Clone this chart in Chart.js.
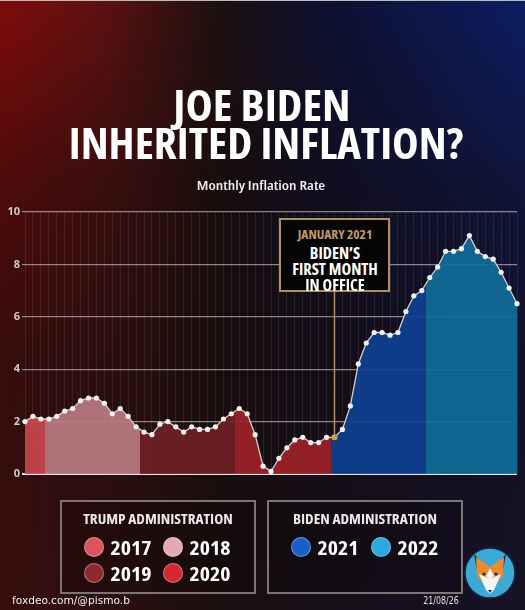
<!DOCTYPE html>
<html>
<head>
<meta charset="utf-8">
<script src="https://cdn.jsdelivr.net/npm/chart.js@4.4.1/dist/chart.umd.min.js"></script>
<style>
  html, body { margin: 0; padding: 0; }
  body {
    width: 525px; height: 610px; overflow: hidden; position: relative;
    background:
      linear-gradient(180deg, rgba(0,0,0,0) 0%, rgba(18,10,10,0.45) 30%, rgba(22,12,12,0.7) 60%, rgba(26,14,14,0.72) 100%),
      linear-gradient(90deg, #800b0b 0%, #5c1111 20%, #1c1010 42%, #0d1030 62%, #0c1d63 100%);
    font-family: 'Open Sans', sans-serif;
  }
  #topline { position: absolute; left: 0; top: 0; width: 525px; height: 1px; background: #bbb; }
  #chartBox { position: absolute; left: 0; top: 0; width: 525px; height: 610px; }
  .t { position: absolute; white-space: nowrap; line-height: 1; font-stretch: condensed; }
  .panel { position: absolute; top: 500px; width: 192px; height: 90px; border: 2px solid #7d7474; background: rgba(0,0,0,0.18); }
  .dot { position: absolute; width: 18px; height: 18px; border-radius: 50%; border: 1.5px solid rgba(255,255,255,0.35); transform: translate(-50%,-50%); }
  #note { position: absolute; top: 218px; width: 107px; height: 70px; border: 2px solid #b08f5e; background: #050505; }
</style>
</head>
<body>
<div id="topline"></div>
<div id="chartBox"><canvas id="inflationChart" width="525" height="610"></canvas></div>
<div id="note"></div>
<div class="panel" style="left:60px"></div>
<div class="panel" style="left:267px"></div>
<svg style="position:absolute;left:463px;top:546px" width="54" height="54" viewBox="0 0 54 54">
  <circle cx="27" cy="27" r="25" fill="#3ea8d6" stroke="#0e2a44" stroke-width="1.5"/>
  <polygon points="11,8 22,20 15,30" fill="#14324e"/>
  <polygon points="43,8 32,20 39,30" fill="#14324e"/>
  <polygon points="13,11 27,21 41,11 40,30 27,46 14,30" fill="#ef8a2c"/>
  <polygon points="16,28 27,33 38,28 31,44 27,48 23,44" fill="#f4f4f4"/>
  <polygon points="27,22 31,30 27,34 23,30" fill="#f4f4f4"/>
  <circle cx="21" cy="28" r="1.6" fill="#14324e"/>
  <circle cx="33" cy="28" r="1.6" fill="#14324e"/>
  <polygon points="25,44 29,44 27,47" fill="#14324e"/>
</svg>
<script>
// Monthly inflation rate (year over year, %), Oct 2017 - Dec 2022
const years = ['2017', '2018', '2019', '2020', '2021', '2022'];
const monthNames = ['Jan', 'Feb', 'Mar', 'Apr', 'May', 'Jun', 'Jul', 'Aug', 'Sep', 'Oct', 'Nov', 'Dec'];
const rate2017 = [2.0, 2.2, 2.1];   // Oct - Dec
const rate2018 = [2.1, 2.2, 2.4, 2.5, 2.8, 2.9, 2.9, 2.7, 2.3, 2.5, 2.2, 1.8];
const rate2019 = [1.6, 1.5, 1.9, 2.0, 1.8, 1.6, 1.8, 1.7, 1.7, 1.8, 2.1, 2.3];
const rate2020 = [2.5, 2.3, 1.5, 0.3, 0.1, 0.6, 1.0, 1.3, 1.4, 1.2, 1.2, 1.4];
const rate2021 = [1.4, 1.7, 2.6, 4.2, 5.0, 5.4, 5.4, 5.3, 5.4, 6.2, 6.8, 7.0];
const rate2022 = [7.5, 7.9, 8.5, 8.5, 8.6, 9.1, 8.5, 8.3, 8.2, 7.7, 7.1, 6.5];
const yTicks = [0, 2, 4, 6, 8, 10];

const yearRates = [rate2017, rate2018, rate2019, rate2020, rate2021, rate2022];
const fillColors = ['rgba(200,70,78,0.92)', 'rgba(186,122,130,0.92)', 'rgba(110,32,38,0.92)', 'rgba(158,32,41,0.92)', 'rgba(14,64,146,0.92)', 'rgba(16,108,154,0.92)'];
const swatchColors = ['#d9555d', '#e6a9b1', '#8c2a30', '#d22a35', '#1a5ec8', '#2aa8e0'];

// build labels and values from the yearly arrays
const labels = [];
const values = [];
yearRates.forEach((arr, i) => {
    const first = 12 - arr.length;
    arr.forEach((v, m) => {
        labels.push(monthNames[first + m] + ' ' + years[i]);
        values.push(v);
    });
});
const bidenStart = labels.indexOf('Jan 2021');

function yearGradient(context) {
    const chart = context.chart;
    const area = chart.chartArea;
    if (!area) return 'rgba(0,0,0,0)';
    const xs = chart.scales.x;
    const L = area.left, R = area.right;
    const g = chart.ctx.createLinearGradient(L, 0, R, 0);
    let start = 0;
    yearRates.forEach((arr, i) => {
        const end = start + arr.length - 1;
        const x0 = i === 0 ? L : (xs.getPixelForValue(start - 1) + xs.getPixelForValue(start)) / 2;
        const x1 = i === yearRates.length - 1 ? R : (xs.getPixelForValue(end) + xs.getPixelForValue(end + 1)) / 2;
        g.addColorStop(Math.max(0, (x0 - L) / (R - L)), fillColors[i]);
        g.addColorStop(Math.min(1, (x1 - L) / (R - L)), fillColors[i]);
        start = end + 1;
    });
    return g;
}

// golden connector from the note box down to January 2021
const noteLine = {
    id: 'noteLine',
    afterDatasetsDraw(chart) {
        const x = chart.scales.x.getPixelForValue(bidenStart);
        const y = chart.scales.y.getPixelForValue(values[bidenStart]);
        const c = chart.ctx;
        c.save();
        c.strokeStyle = '#b08f5e';
        c.lineWidth = 1.5;
        c.beginPath();
        c.moveTo(x, 292);
        c.lineTo(x, y - 3);
        c.stroke();
        c.fillStyle = '#c9a24e';
        c.beginPath();
        c.arc(x, y, 3, 0, Math.PI * 2);
        c.fill();
        c.restore();
    }
};

const chart = new Chart(document.getElementById('inflationChart'), {
    type: 'line',
    data: {
        labels: labels,
        datasets: [{
            label: 'Monthly Inflation Rate',
            data: values,
            borderColor: '#d8d0d0',
            borderWidth: 1.3,
            tension: 0,
            fill: 'origin',
            backgroundColor: yearGradient,
            pointRadius: 2.6,
            pointBorderWidth: 0,
            pointBackgroundColor: '#f4f0f0'
        }]
    },
    options: {
        responsive: false,
        animation: false,
        layout: { padding: { top: 212, bottom: 136, left: 0, right: 8 } },
        plugins: { legend: { display: false }, tooltip: { enabled: false } },
        scales: {
            x: {
                offset: false,
                ticks: { display: false, autoSkip: false },
                grid: { color: 'rgba(255,255,255,0.11)', lineWidth: 0.8, drawTicks: false },
                border: { display: false }
            },
            y: {
                min: 0,
                max: 10,
                afterBuildTicks: (s) => { s.ticks = yTicks.map(v => ({ value: v })); },
                afterFit: (s) => { s.width = 25; },
                ticks: { color: '#d2caca', font: { family: 'Open Sans', weight: 'bold', size: 11 }, padding: 2 },
                grid: {
                    color: (c) => c.tick && c.tick.value === 0 ? '#ebe6e6' : 'rgba(215,205,205,0.62)',
                    lineWidth: (c) => c.tick && c.tick.value === 0 ? 2 : 1.2,
                    tickLength: 3
                },
                border: { display: false }
            }
        }
    },
    plugins: [noteLine]
});

// position the note box on January 2021
const noteX = chart.scales.x.getPixelForValue(bidenStart);
document.getElementById('note').style.left = (noteX - 55.5) + 'px';

// text placed by centre and fitted to the measured width
function place(text, cx, cy, w, font, color) {
    const el = document.createElement('div');
    el.className = 't';
    el.textContent = text;
    el.style.font = font;
    el.style.fontStretch = 'condensed';
    el.style.color = color;
    el.style.left = cx + 'px';
    el.style.top = cy + 'px';
    document.body.appendChild(el);
    const k = w / el.offsetWidth;
    el.style.transform = 'translate(-50%,-50%) scaleX(' + k + ')';
    return el;
}

place('JOE BIDEN', 261.5, 104, 177, "bold 42px 'Open Sans'", '#ffffff');
place('INHERITED INFLATION?', 265.5, 142, 395, "bold 42px 'Open Sans'", '#ffffff');
place('Monthly Inflation Rate', 261, 185, 128, "600 12.5px 'Open Sans'", '#f2eeee');

place('JANUARY 2021', noteX + 0.5, 234, 75, "bold 12px 'Open Sans'", '#c29a68');
place('BIDEN\u2019S', noteX + 1, 253, 50, "bold 16px 'Open Sans'", '#ffffff');
place('FIRST MONTH', noteX + 1, 269, 86, "bold 16px 'Open Sans'", '#ffffff');
place('IN OFFICE', noteX + 1, 285, 60, "bold 16px 'Open Sans'", '#ffffff');

place('TRUMP ADMINISTRATION', 158, 518, 150, "bold 15px 'Open Sans'", '#ece8e8');
place('BIDEN ADMINISTRATION', 365, 518, 144, "bold 15px 'Open Sans'", '#ece8e8');

const legendSpots = [[94, 547], [173, 547], [94, 573], [173, 573], [301, 547], [381, 547]];
years.forEach((yr, i) => {
    const [cx, cy] = legendSpots[i];
    const d = document.createElement('div');
    d.className = 'dot';
    d.style.left = cx + 'px';
    d.style.top = cy + 'px';
    d.style.background = swatchColors[i];
    document.body.appendChild(d);
    place(yr, cx + 36.5, cy, 41.5, "bold 20px 'Open Sans'", '#ffffff');
});

place('foxdeo.com/@pismo.b', 71, 600, 118, "11px 'DejaVu Sans'", '#f0f0f0');
place('21/08/26', 440.5, 600, 35, "10px 'DejaVu Sans'", '#e0e0e0');
</script>
</body>
</html>
